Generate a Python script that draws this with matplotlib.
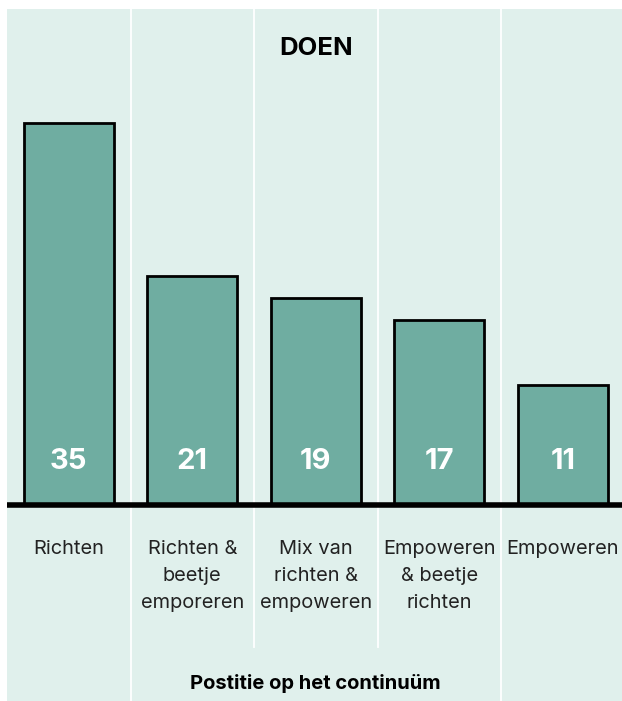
import matplotlib.pyplot as plt

plt.rcParams['font.family'] = ['Inter', 'DejaVu Sans']

categories = ['Richten', 'Richten &\nbeetje\nemporeren', 'Mix van\nrichten &\nempoweren',
              'Empoweren\n& beetje\nrichten', 'Empoweren']
values = [35, 21, 19, 17, 11]
title = 'DOEN'
xlabel = 'Postitie op het continuüm'

bg = '#e0f0ec'
bar_color = '#6fada1'

fig = plt.figure(figsize=(6.22, 7.01), dpi=100)
ax = fig.add_axes([7 / 622, 0, 617.5 / 622, 692 / 701])
ax.set_facecolor(bg)

x = list(range(len(values)))
ax.bar(x, values, width=0.73, color=bar_color, edgecolor='black', linewidth=2, zorder=3)

ax.set_xlim(-0.5, len(values) - 0.5)
ax.set_ylim(-18, 45.5)

# column separators
for i, xs in enumerate([0.5, 1.5, 2.5, 3.5]):
    bottom = -18 if i in (0, 3) else -13
    ax.plot([xs, xs], [bottom, 45.5], color='white', lw=1.3, zorder=1)

ax.axhline(0, color='black', lw=4, zorder=4)

for xi, v in zip(x, values):
    ax.text(xi, 4.0, str(v), ha='center', va='center', color='white',
            fontsize=21, fontweight='bold', zorder=5)

for xi, c in zip(x, categories):
    ax.text(xi, -3.25, c, ha='center', va='top', fontsize=14.4, color='#222222',
            linespacing=1.62)

ax.text(2, 41.9, title, ha='center', va='center', fontsize=18.5, fontweight='bold')
ax.text(2, -16.4, xlabel, ha='center', va='center', fontsize=14.5, fontweight='bold')

for s in ax.spines.values():
    s.set_visible(False)
ax.set_xticks([])
ax.set_yticks([])

fig.savefig('out.png', dpi=100)
